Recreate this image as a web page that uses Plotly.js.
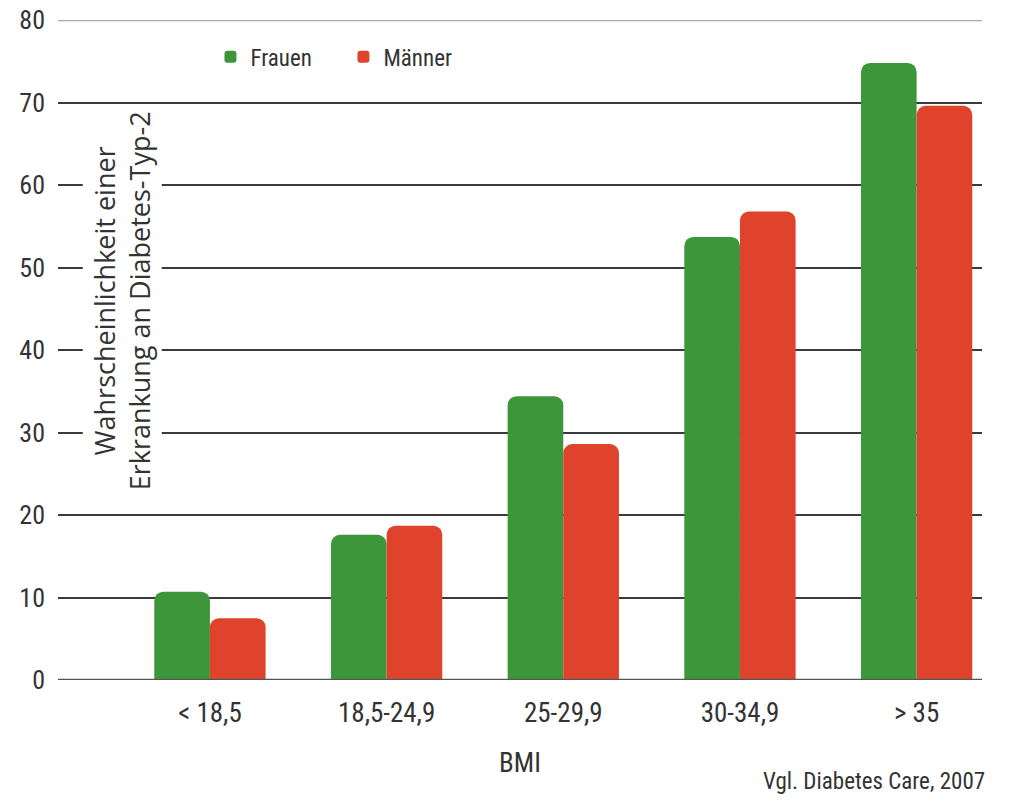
<!DOCTYPE html>
<html>
<head>
<meta charset="utf-8">
<script src="https://cdn.plot.ly/plotly-3.0.1.min.js"></script>
<style>html,body{margin:0;padding:0;background:#fff;}#chart{width:1016px;height:801px;}</style>
</head>
<body>
<div id="chart"></div>
<script>
var categories = ["< 18,5", "18,5-24,9", "25-29,9", "30-34,9", "> 35"];
var frauen = [10.7, 17.6, 34.4, 53.7, 74.8];
var maenner = [7.5, 18.7, 28.6, 56.8, 69.6];
var yTicks = [0, 10, 20, 30, 40, 50, 60, 70, 80];
var seriesNames = ["Frauen", "Männer"];

var narrow = "'Roboto Condensed', Roboto, sans-serif";

var traces = [
  {type: "bar", name: seriesNames[0], x: categories, y: frauen,
   marker: {color: "#3e963a", cornerradius: 9, line: {width: 0}}},
  {type: "bar", name: seriesNames[1], x: categories, y: maenner,
   marker: {color: "#e0432b", cornerradius: 9, line: {width: 0}}}
];

var layout = {
  width: 1016, height: 801,
  margin: {l: 58, r: 34, t: 20, b: 121},
  paper_bgcolor: "#ffffff", plot_bgcolor: "#ffffff",
  barmode: "group", bargap: 0.37, bargroupgap: -0.04,
  font: {family: narrow, color: "#333"},
  showlegend: true,
  legend: {orientation: "h", x: 0.165, y: 0.977, xanchor: "left", yanchor: "top",
           font: {family: narrow, size: 23, color: "#333"}, bgcolor: "rgba(0,0,0,0)",
           entrywidth: 88, entrywidthmode: "pixels", traceorder: "normal"},
  xaxis: {type: "category", range: [-0.86, 4.37], showgrid: false, zeroline: false,
          showline: false, ticks: "", ticklabelstandoff: 14,
          tickfont: {family: narrow, size: 27, color: "#333"},
          title: {text: "BMI", font: {family: narrow, size: 27, color: "#333"}, standoff: 25}},
  yaxis: {range: [0, 80], tickvals: yTicks, ticktext: yTicks.map(String),
          showgrid: true, gridcolor: "#3a3a3a", gridwidth: 2, zeroline: false,
          showline: false, ticks: "", ticklabelstandoff: 12,
          tickfont: {family: narrow, size: 26, color: "#333"}},
  shapes: [
    {type: "line", xref: "paper", yref: "y", x0: 0, x1: 1, y0: 80, y1: 80,
     line: {color: "#a8a8a8", width: 2.5}, layer: "below"},
    {type: "line", xref: "paper", yref: "y", x0: 0, x1: 1, y0: 0, y1: 0,
     line: {color: "#555", width: 2.5}, layer: "above"}
  ],
  annotations: [
    {text: "Wahrscheinlichkeit einer<br>Erkrankung an Diabetes-Typ-2", xref: "paper", yref: "y",
     x: 0.069, y: 46, xanchor: "center", yanchor: "middle", textangle: -90, showarrow: false, align: "center",
     font: {family: "'Open Sans', sans-serif", size: 27, color: "#333"},
     bgcolor: "#ffffff", borderpad: 3},
    {text: "Vgl. Diabetes Care, 2007", xref: "paper", yref: "paper", x: 1.005, y: -0.13,
     xanchor: "right", yanchor: "top", showarrow: false,
     font: {family: narrow, size: 23, color: "#333"}}
  ]
};

Plotly.newPlot("chart", traces, layout, {displayModeBar: false, staticPlot: true});
</script>
</body>
</html>
